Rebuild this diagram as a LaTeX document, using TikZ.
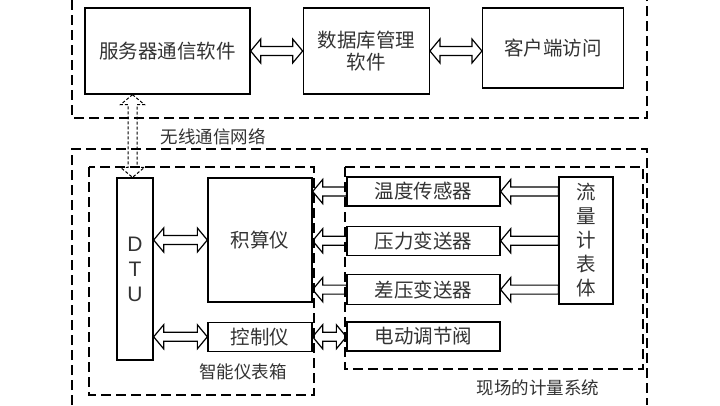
\documentclass[tikz,border=0pt]{standalone}
\usepackage{fontspec}
\setmainfont{Noto Sans CJK SC}
\newfontfamily\latinf{Liberation Sans}
\usetikzlibrary{positioning,calc}

\tikzset{
	blk/.style={draw, line width=1.3pt, text=black!80, inner sep=2pt, font=\fontsize{19.5}{22}\selectfont},
	grp/.style={line width=1.6pt, dash pattern=on 10pt off 5pt},
	lbl/.style={text=black!80, font=\fontsize{17.5}{20}\selectfont},
	% fleche creuse a deux pointes
	dbl/.style={line width=1.2pt, to path={let \p1=(\tikztostart), \p2=(\tikztotarget) in
		(\p1) -- ($(\p1)!10pt!(\p2)!12pt!90:(\p2)$) -- ($(\p1)!10pt!(\p2)!4.5pt!90:(\p2)$)
		-- ($(\p2)!10pt!(\p1)!4.5pt!90:(\p2)$) -- ($(\p2)!10pt!(\p1)!12pt!90:(\p2)$) -- (\p2)
		-- ($(\p2)!10pt!(\p1)!12pt!-90:(\p2)$) -- ($(\p2)!10pt!(\p1)!4.5pt!-90:(\p2)$)
		-- ($(\p1)!10pt!(\p2)!4.5pt!-90:(\p2)$) -- ($(\p1)!10pt!(\p2)!12pt!-90:(\p2)$) -- cycle}},
	% fleche creuse a une pointe
	sgl/.style={line width=1.2pt, to path={let \p1=(\tikztostart), \p2=(\tikztotarget) in
		($(\p1)!4.5pt!90:(\p2)$) -- ($(\p2)!10pt!(\p1)!4.5pt!90:(\p2)$) -- ($(\p2)!10pt!(\p1)!12pt!90:(\p2)$)
		-- (\p2) -- ($(\p2)!10pt!(\p1)!12pt!-90:(\p2)$) -- ($(\p2)!10pt!(\p1)!4.5pt!-90:(\p2)$)
		-- ($(\p1)!4.5pt!-90:(\p2)$) -- cycle}}
}

\begin{document}
\begin{tikzpicture}[x=1pt, y=-1pt]
		\fill[white] (0,0) rectangle (720,405);
		\useasboundingbox (0,0) rectangle (720,405);

		\node[blk, minimum width=165pt, minimum height=86pt] (srv) at (167.5,51) {服务器通信软件};
		\node[blk, minimum width=126pt, minimum height=86pt, align=center, right=52pt of srv] (db) {数据库管理\\软件};
		\node[blk, minimum width=141pt, minimum height=80pt, right=52pt of db, yshift=3pt] (cli) {客户端访问};

		\node[blk, minimum width=36pt, minimum height=182pt, align=center, font=\latinf\fontsize{21}{25}\selectfont] (dtu) at (135,269) {D\\T\\U};
		\node[blk, minimum width=104pt, minimum height=124pt] (jsy) at (260,240) {积算仪};
		\node[blk, minimum width=104pt, minimum height=29pt, below=19pt of jsy] (kzy) {控制仪};

		\node[blk, minimum width=153pt, minimum height=29pt] (s1) at (423.5,191.5) {温度传感器};
		\node[blk, minimum width=153pt, minimum height=29pt, below=19pt of s1] (s2) {压力变送器};
		\node[blk, minimum width=153pt, minimum height=30pt, below=18pt of s2] (s3) {差压变送器};
		\node[blk, minimum width=153pt, minimum height=29pt, below=16pt of s3] (s4) {电动调节阀};
		\node[blk, minimum width=54pt, minimum height=127pt, align=center, font=\fontsize{19.5}{24}\selectfont] (flow) at (586,240.5) {流\\量\\计\\表\\体};

		%les cadres en tirets
		\draw[grp] (72,0) -- (72,118) -- (647,118) -- (647,0);
		\draw[grp] (72,405) -- (72,149) -- (647,149) -- (647,405);
		\draw[grp, line width=1.4pt] (89,167) rectangle (314,395);
		\draw[grp, line width=1.4pt] (345,167) rectangle (643,369);

		\node[lbl, anchor=west] (wl) at (157,137) {无线通信网络};
		\node[lbl] (box) at (243,372) {智能仪表箱};
		\node[lbl] (site) at (538,388) {现场的计量系统};

		\draw[dbl] (srv.east) to (db.west);
		\draw[dbl] (db.east) to (db.east -| cli.west);
		\coordinate (w) at (132.5,0);
		\draw[dbl, line width=1pt, dash pattern=on 3pt off 2pt] (srv.south -| w) to (dtu.north -| w);
		\draw[dbl] (dtu.east |- jsy.west) to (jsy.west);
		\draw[dbl] (dtu.east |- kzy.west) to (kzy.west);
		\draw[dbl] (kzy.east) to (kzy.east -| s4.west);
		\foreach \s in {s1,s2,s3} {
			\draw[sgl] (\s.west) to (\s.west -| jsy.east);
			\draw[sgl] (flow.west |- \s.east) to (\s.east);
		}

	\end{tikzpicture}
\end{document}
